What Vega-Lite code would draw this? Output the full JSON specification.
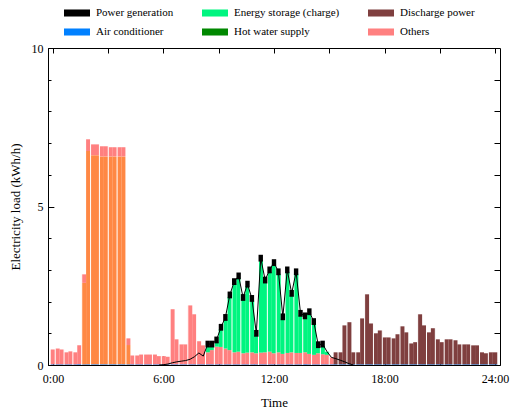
{
  "$schema": "https://vega.github.io/schema/vega-lite/v6.json",
  "width": 452,
  "height": 317,
  "autosize": {"type": "none"},
  "padding": {"left": 48, "top": 48, "right": 16, "bottom": 51},
  "config": {
    "font": "'Liberation Serif', 'Times New Roman', Times, serif",
    "view": {"stroke": "black", "strokeWidth": 1},
    "axis": {
      "domainColor": "black", "tickColor": "black", "labelColor": "black", "titleColor": "black",
      "labelFont": "'Liberation Serif', 'Times New Roman', Times, serif", "titleFont": "'Liberation Serif', 'Times New Roman', Times, serif",
      "labelFontSize": 12, "titleFontSize": 13, "titleFontWeight": "normal",
      "grid": false, "zindex": 1, "tickWidth": 1, "domainWidth": 1
    }
  },
  "datasets": {
    "load": [
      {"slot": 0, "Air conditioner": 0.02, "Others": 0.47},
      {"slot": 1, "Air conditioner": 0.02, "Others": 0.50},
      {"slot": 2, "Air conditioner": 0.02, "Others": 0.47},
      {"slot": 3, "Air conditioner": 0.02, "Others": 0.38},
      {"slot": 4, "Air conditioner": 0.02, "Others": 0.41},
      {"slot": 5, "Air conditioner": 0.02, "Others": 0.38},
      {"slot": 6, "Air conditioner": 0.02, "Others": 0.60},
      {"slot": 7, "Air conditioner": 0.02, "Heat pump water heater": 2.57, "Others": 0.27},
      {"slot": 8, "Air conditioner": 0.02, "Heat pump water heater": 6.73, "Others": 0.37},
      {"slot": 9, "Air conditioner": 0.02, "Heat pump water heater": 6.60, "Others": 0.34},
      {"slot": 10, "Air conditioner": 0.02, "Heat pump water heater": 6.60, "Others": 0.34},
      {"slot": 11, "Air conditioner": 0.02, "Heat pump water heater": 6.56, "Others": 0.32},
      {"slot": 12, "Air conditioner": 0.02, "Heat pump water heater": 6.56, "Others": 0.32},
      {"slot": 13, "Air conditioner": 0.02, "Heat pump water heater": 6.56, "Others": 0.29},
      {"slot": 14, "Air conditioner": 0.02, "Heat pump water heater": 6.56, "Others": 0.29},
      {"slot": 15, "Air conditioner": 0.02, "Heat pump water heater": 6.56, "Others": 0.29},
      {"slot": 16, "Air conditioner": 0.02, "Heat pump water heater": 6.56, "Others": 0.29},
      {"slot": 17, "Air conditioner": 0.02, "Heat pump water heater": 0.61, "Others": 0.21},
      {"slot": 18, "Air conditioner": 0.02, "Others": 0.28},
      {"slot": 19, "Air conditioner": 0.02, "Others": 0.28},
      {"slot": 20, "Air conditioner": 0.02, "Others": 0.31},
      {"slot": 21, "Air conditioner": 0.02, "Others": 0.31},
      {"slot": 22, "Air conditioner": 0.02, "Others": 0.31},
      {"slot": 23, "Air conditioner": 0.02, "Others": 0.31},
      {"slot": 24, "Air conditioner": 0.02, "Others": 0.26},
      {"slot": 25, "Air conditioner": 0.02, "Others": 0.26},
      {"slot": 26, "Air conditioner": 0.02, "Others": 0.24},
      {"slot": 27, "Air conditioner": 0.02, "Others": 1.74},
      {"slot": 28, "Air conditioner": 0.02, "Others": 0.79},
      {"slot": 29, "Air conditioner": 0.02, "Others": 0.63},
      {"slot": 30, "Air conditioner": 0.02, "Others": 0.63},
      {"slot": 31, "Air conditioner": 0.02, "Others": 1.86},
      {"slot": 32, "Air conditioner": 0.02, "Others": 1.58},
      {"slot": 33, "Air conditioner": 0.02, "Others": 0.73},
      {"slot": 34, "Air conditioner": 0.02, "Others": 0.60},
      {"slot": 35, "Air conditioner": 0.02, "Others": 0.38, "Energy storage (charge)": 0.20},
      {"slot": 36, "Air conditioner": 0.02, "Others": 0.45, "Energy storage (charge)": 0.13},
      {"slot": 37, "Air conditioner": 0.02, "Others": 0.56, "Energy storage (charge)": 0.15},
      {"slot": 38, "Air conditioner": 0.02, "Others": 0.55, "Energy storage (charge)": 0.56},
      {"slot": 39, "Air conditioner": 0.02, "Others": 0.50, "Energy storage (charge)": 0.92},
      {"slot": 40, "Air conditioner": 0.02, "Others": 0.45, "Energy storage (charge)": 1.68},
      {"slot": 41, "Air conditioner": 0.02, "Others": 0.38, "Energy storage (charge)": 2.17},
      {"slot": 42, "Air conditioner": 0.02, "Others": 0.40, "Energy storage (charge)": 2.33},
      {"slot": 43, "Air conditioner": 0.02, "Others": 0.35, "Energy storage (charge)": 1.70},
      {"slot": 44, "Air conditioner": 0.02, "Others": 0.37, "Energy storage (charge)": 2.10},
      {"slot": 45, "Air conditioner": 0.02, "Others": 0.38, "Energy storage (charge)": 1.64},
      {"slot": 46, "Air conditioner": 0.02, "Others": 0.35, "Energy storage (charge)": 0.57},
      {"slot": 47, "Air conditioner": 0.02, "Others": 0.37, "Energy storage (charge)": 2.92},
      {"slot": 48, "Air conditioner": 0.02, "Others": 0.38, "Energy storage (charge)": 2.22},
      {"slot": 49, "Air conditioner": 0.02, "Others": 0.40, "Energy storage (charge)": 2.52},
      {"slot": 50, "Air conditioner": 0.02, "Others": 0.35, "Energy storage (charge)": 2.80},
      {"slot": 51, "Air conditioner": 0.02, "Others": 0.38, "Energy storage (charge)": 2.48},
      {"slot": 52, "Air conditioner": 0.02, "Others": 0.33, "Energy storage (charge)": 1.11},
      {"slot": 53, "Air conditioner": 0.02, "Others": 0.36, "Energy storage (charge)": 2.56},
      {"slot": 54, "Air conditioner": 0.02, "Others": 0.38, "Energy storage (charge)": 1.80},
      {"slot": 55, "Air conditioner": 0.02, "Others": 0.36, "Energy storage (charge)": 2.50},
      {"slot": 56, "Air conditioner": 0.02, "Others": 0.36, "Energy storage (charge)": 1.19},
      {"slot": 57, "Air conditioner": 0.02, "Others": 0.38, "Energy storage (charge)": 1.09},
      {"slot": 58, "Air conditioner": 0.02, "Others": 0.33, "Energy storage (charge)": 1.27},
      {"slot": 59, "Air conditioner": 0.02, "Others": 0.30, "Energy storage (charge)": 0.99},
      {"slot": 60, "Air conditioner": 0.02, "Others": 0.35, "Energy storage (charge)": 0.21},
      {"slot": 61, "Air conditioner": 0.02, "Others": 0.32, "Energy storage (charge)": 0.26},
      {"slot": 62, "Air conditioner": 0.02, "Others": 0.30, "Energy storage (charge)": 0.10},
      {"slot": 63, "Air conditioner": 0.02, "Others": 0.22},
      {"slot": 64, "Air conditioner": 0.02, "Discharge power": 0.38},
      {"slot": 65, "Air conditioner": 0.02, "Discharge power": 0.38},
      {"slot": 66, "Air conditioner": 0.02, "Discharge power": 1.23},
      {"slot": 67, "Air conditioner": 0.02, "Discharge power": 1.33},
      {"slot": 68, "Air conditioner": 0.02, "Discharge power": 0.38},
      {"slot": 69, "Air conditioner": 0.02, "Discharge power": 0.38},
      {"slot": 70, "Air conditioner": 0.02, "Discharge power": 1.45},
      {"slot": 71, "Air conditioner": 0.02, "Discharge power": 2.21},
      {"slot": 72, "Air conditioner": 0.02, "Discharge power": 1.29},
      {"slot": 73, "Air conditioner": 0.02, "Discharge power": 0.98},
      {"slot": 74, "Air conditioner": 0.02, "Discharge power": 1.07},
      {"slot": 75, "Air conditioner": 0.02, "Discharge power": 0.85},
      {"slot": 76, "Air conditioner": 0.02, "Discharge power": 0.85},
      {"slot": 77, "Air conditioner": 0.02, "Discharge power": 0.82},
      {"slot": 78, "Air conditioner": 0.02, "Discharge power": 0.95},
      {"slot": 79, "Air conditioner": 0.02, "Discharge power": 1.20},
      {"slot": 80, "Air conditioner": 0.02, "Discharge power": 1.01},
      {"slot": 81, "Air conditioner": 0.02, "Discharge power": 0.66},
      {"slot": 82, "Air conditioner": 0.02, "Discharge power": 0.70},
      {"slot": 83, "Air conditioner": 0.02, "Discharge power": 1.58},
      {"slot": 84, "Air conditioner": 0.02, "Discharge power": 1.23},
      {"slot": 85, "Air conditioner": 0.02, "Discharge power": 1.01},
      {"slot": 86, "Air conditioner": 0.02, "Discharge power": 1.14},
      {"slot": 87, "Air conditioner": 0.02, "Discharge power": 0.79},
      {"slot": 88, "Air conditioner": 0.02, "Discharge power": 0.70},
      {"slot": 89, "Air conditioner": 0.02, "Discharge power": 0.79},
      {"slot": 90, "Air conditioner": 0.02, "Discharge power": 0.79},
      {"slot": 91, "Air conditioner": 0.02, "Discharge power": 0.76},
      {"slot": 92, "Air conditioner": 0.02, "Discharge power": 0.63},
      {"slot": 93, "Air conditioner": 0.02, "Discharge power": 0.63},
      {"slot": 94, "Air conditioner": 0.02, "Discharge power": 0.63},
      {"slot": 95, "Air conditioner": 0.02, "Discharge power": 0.60},
      {"slot": 96, "Air conditioner": 0.02, "Discharge power": 0.60},
      {"slot": 97, "Air conditioner": 0.02, "Discharge power": 0.38},
      {"slot": 98, "Air conditioner": 0.02, "Discharge power": 0.35},
      {"slot": 99, "Air conditioner": 0.02, "Discharge power": 0.38},
      {"slot": 100, "Air conditioner": 0.02, "Discharge power": 0.38}
    ],
    "gen": [
      {"slot": 24, "pg": 0.0}, {"slot": 25, "pg": 0.01}, {"slot": 26, "pg": 0.03},
      {"slot": 27, "pg": 0.07}, {"slot": 28, "pg": 0.10}, {"slot": 29, "pg": 0.12},
      {"slot": 30, "pg": 0.14}, {"slot": 31, "pg": 0.18}, {"slot": 32, "pg": 0.26},
      {"slot": 33, "pg": 0.38}, {"slot": 34, "pg": 0.28}, {"slot": 35, "pg": 0.66},
      {"slot": 36, "pg": 0.66}, {"slot": 37, "pg": 0.79}, {"slot": 38, "pg": 1.19},
      {"slot": 39, "pg": 1.50}, {"slot": 40, "pg": 2.21}, {"slot": 41, "pg": 2.63},
      {"slot": 42, "pg": 2.81}, {"slot": 43, "pg": 2.13}, {"slot": 44, "pg": 2.55},
      {"slot": 45, "pg": 2.10}, {"slot": 46, "pg": 1.00}, {"slot": 47, "pg": 3.37},
      {"slot": 48, "pg": 2.68}, {"slot": 49, "pg": 3.00}, {"slot": 50, "pg": 3.23},
      {"slot": 51, "pg": 2.94}, {"slot": 52, "pg": 1.52}, {"slot": 53, "pg": 3.00},
      {"slot": 54, "pg": 2.26}, {"slot": 55, "pg": 2.94}, {"slot": 56, "pg": 1.63},
      {"slot": 57, "pg": 1.55}, {"slot": 58, "pg": 1.68}, {"slot": 59, "pg": 1.37},
      {"slot": 60, "pg": 0.64}, {"slot": 61, "pg": 0.66}, {"slot": 62, "pg": 0.42},
      {"slot": 63, "pg": 0.24}, {"slot": 64, "pg": 0.20}, {"slot": 65, "pg": 0.15},
      {"slot": 66, "pg": 0.10}, {"slot": 67, "pg": 0.04}, {"slot": 68, "pg": 0.0}
    ],
    "sep": [
      {"slot": 0.5}, {"slot": 2.5}, {"slot": 4.5}, {"slot": 6.5}, {"slot": 8.5}, {"slot": 10.5},
      {"slot": 12.5}, {"slot": 14.5}, {"slot": 16.5}, {"slot": 18.5}, {"slot": 20.5}, {"slot": 22.5},
      {"slot": 24.5}, {"slot": 26.5}, {"slot": 28.5}, {"slot": 30.5}, {"slot": 32.5}, {"slot": 34.5},
      {"slot": 36.5}, {"slot": 38.5}, {"slot": 40.5}, {"slot": 42.5}, {"slot": 44.5}, {"slot": 46.5},
      {"slot": 48.5}, {"slot": 50.5}, {"slot": 52.5}, {"slot": 54.5}, {"slot": 56.5}, {"slot": 58.5},
      {"slot": 60.5}, {"slot": 62.5}, {"slot": 64.5}, {"slot": 66.5}, {"slot": 68.5}, {"slot": 70.5},
      {"slot": 72.5}, {"slot": 74.5}, {"slot": 76.5}, {"slot": 78.5}, {"slot": 80.5}, {"slot": 82.5},
      {"slot": 84.5}, {"slot": 86.5}, {"slot": 88.5}, {"slot": 90.5}, {"slot": 92.5}, {"slot": 94.5},
      {"slot": 96.5}, {"slot": 98.5}
    ]
  },
  "resolve": {"axis": {"x": "independent", "y": "independent"}},
  "layer": [
    {
      "data": {"name": "load"},
      "transform": [
        {"fold": ["Air conditioner", "Heat pump water heater", "Others", "Energy storage (charge)", "Discharge power"], "as": ["series", "kwh"]},
        {"filter": "datum.kwh > 0"},
        {"calculate": "indexof(['Air conditioner', 'Heat pump water heater', 'Others', 'Energy storage (charge)', 'Discharge power'], datum.series)", "as": "stackrank"}
      ],
      "mark": {"type": "bar", "width": 4.52, "strokeWidth": 0},
      "encoding": {
        "x": {
          "field": "slot", "type": "quantitative",
          "scale": {"domain": [0, 100], "nice": false, "zero": false},
          "axis": {
            "orient": "bottom", "values": [0, 25, 50, 75, 100], "ticks": false,
            "labelExpr": "(datum.value * 24 / 100) + ':00'",
            "labelPadding": 8, "title": "Time", "titlePadding": 12, "domain": true
          }
        },
        "y": {
          "field": "kwh", "type": "quantitative", "stack": "zero",
          "scale": {"domain": [0, 10], "nice": false},
          "axis": {
            "orient": "left", "values": [0, 5, 10], "ticks": false,
            "labelPadding": 5, "title": "Electricity load (kWh/h)", "titlePadding": 9, "domain": true
          }
        },
        "order": {"field": "stackrank", "type": "quantitative", "sort": "ascending"},
        "color": {
          "field": "series", "type": "nominal",
          "scale": {
            "domain": ["Power generation", "Energy storage (charge)", "Discharge power", "Air conditioner", "Hot water supply", "Others", "Heat pump water heater"],
            "range": ["#000000", "#00F580", "#7F3F3F", "#0080FF", "#008800", "#FF8080", "#FF8844"]
          },
          "legend": {
            "values": ["Power generation", "Energy storage (charge)", "Discharge power", "Air conditioner", "Hot water supply", "Others"],
            "orient": "none", "legendX": 16, "legendY": -48,
            "direction": "horizontal", "columns": 3, "title": null,
            "symbolType": "M-1,-0.27H1V0.27H-1Z", "symbolSize": 676, "symbolStrokeWidth": 0, "symbolOpacity": 1,
            "labelFont": "'Liberation Serif', 'Times New Roman', Times, serif", "labelFontSize": 11, "labelColor": "black",
            "labelOffset": 6, "columnPadding": 28, "rowPadding": 1
          }
        }
      }
    },
    {
      "data": {"name": "sep"},
      "mark": {"type": "rule", "color": "white", "strokeWidth": 1},
      "encoding": {
        "x": {
          "field": "slot", "type": "quantitative",
          "axis": {"orient": "bottom", "values": [0, 25, 50, 75, 100], "labels": false, "tickSize": -9, "title": null, "domain": false}
        },
        "y": {
          "datum": 0, "type": "quantitative",
          "axis": {"orient": "left", "values": [0, 5, 10], "labels": false, "tickSize": -6, "title": null, "domain": false}
        },
        "y2": {"datum": 7.3}
      }
    },
    {
      "data": {"name": "gen"},
      "mark": {"type": "line", "color": "black", "strokeWidth": 1},
      "encoding": {
        "x": {
          "field": "slot", "type": "quantitative",
          "axis": {"orient": "bottom", "values": [12.5, 37.5, 62.5, 87.5], "labels": false, "tickSize": -5, "title": null, "domain": false}
        },
        "y": {
          "field": "pg", "type": "quantitative",
          "axis": {"orient": "left", "values": [1, 2, 3, 4, 6, 7, 8, 9], "labels": false, "tickSize": -3, "title": null, "domain": false}
        }
      }
    },
    {
      "data": {"name": "gen"},
      "transform": [{"filter": "datum.slot >= 35 && datum.slot <= 61"}],
      "mark": {"type": "point", "filled": true, "color": "black", "opacity": 1, "shape": "M-0.55,-0.85H0.55V0.85H-0.55Z", "size": 64},
      "encoding": {
        "x": {
          "field": "slot", "type": "quantitative",
          "axis": {"orient": "top", "values": [0, 12.5, 25, 37.5, 50, 62.5, 75, 87.5, 100], "labels": false, "tickSize": -5, "title": null, "domain": false}
        },
        "y": {
          "field": "pg", "type": "quantitative",
          "axis": {"orient": "right", "values": [1, 2, 3, 4, 5, 6, 7, 8, 9], "labels": false, "tickSize": -6, "title": null, "domain": false}
        }
      }
    }
  ]
}
